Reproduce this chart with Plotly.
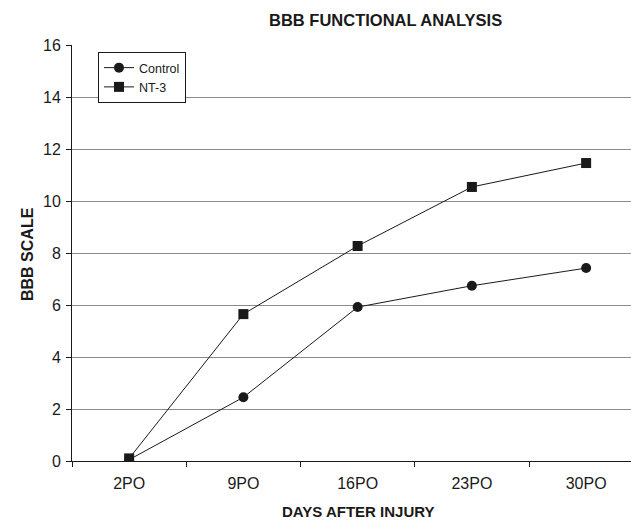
import plotly.graph_objects as go

categories = ["2PO", "9PO", "16PO", "23PO", "30PO"]
control = [0.05, 2.45, 5.92, 6.74, 7.42]
nt3 = [0.1, 5.65, 8.27, 10.54, 11.46]
y_ticks = [0, 2, 4, 6, 8, 10, 12, 14, 16]

W, H = 631, 522
L, R, T, B = 72, 0, 45, 61
pw = W - L - R
ph = H - T - B

def px_x(x):
    return (x - L) / pw

def px_y(y):
    return (H - B - y) / ph

ink = "#1a1a1a"
fig = go.Figure()
fig.add_trace(go.Scatter(x=categories, y=control, name="Control", mode="lines+markers",
                         line=dict(color=ink, width=1),
                         marker=dict(symbol="circle", size=10, color=ink)))
fig.add_trace(go.Scatter(x=categories, y=nt3, name="NT-3", mode="lines+markers",
                         line=dict(color=ink, width=1),
                         marker=dict(symbol="square", size=10, color=ink)))

fnt = "Liberation Sans, Arial, sans-serif"
fig.update_layout(
    width=W, height=H,
    margin=dict(l=L, r=R, t=T, b=B, pad=0),
    paper_bgcolor="white", plot_bgcolor="white",
    font=dict(family=fnt, color=ink),
    showlegend=True,
    legend=dict(x=px_x(98), y=px_y(52), xanchor="left", yanchor="top",
                bordercolor=ink, borderwidth=1,
                font=dict(size=12.5), itemwidth=30, tracegroupgap=0, bgcolor="white"),
    annotations=[
        dict(text="<b>BBB FUNCTIONAL ANALYSIS</b>", x=px_x(385), y=px_y(20),
             xref="paper", yref="paper", xanchor="center", yanchor="middle",
             showarrow=False, font=dict(size=16.5)),
        dict(text="<b>DAYS AFTER INJURY</b>", x=px_x(358), y=px_y(512),
             xref="paper", yref="paper", xanchor="center", yanchor="middle",
             showarrow=False, font=dict(size=15)),
        dict(text="<b>BBB SCALE</b>", x=px_x(27), y=px_y(254), textangle=-90,
             xref="paper", yref="paper", xanchor="center", yanchor="middle",
             showarrow=False, font=dict(size=16)),
    ],
)

step = 114.25
xmax = pw / step - 0.5
fig.update_xaxes(type="category", range=[-0.5, xmax], showgrid=False,
                 showline=True, linecolor=ink, linewidth=1,
                 ticks="outside", ticklen=5, tickcolor=ink, tickson="boundaries",
                 tickfont=dict(size=16), ticklabelstandoff=8,
                 zeroline=False)
fig.update_yaxes(range=[0, 16], tickvals=y_ticks, showgrid=True, gridcolor="#8a8a8a", gridwidth=1.3,
                 showline=True, linecolor=ink, linewidth=1,
                 ticks="outside", ticklen=5, tickcolor=ink,
                 tickfont=dict(size=16), ticklabelstandoff=2,
                 zeroline=False)

fig.write_html("out.html", config={"displayModeBar": False},
               post_script="document.body.style.margin='0';")
